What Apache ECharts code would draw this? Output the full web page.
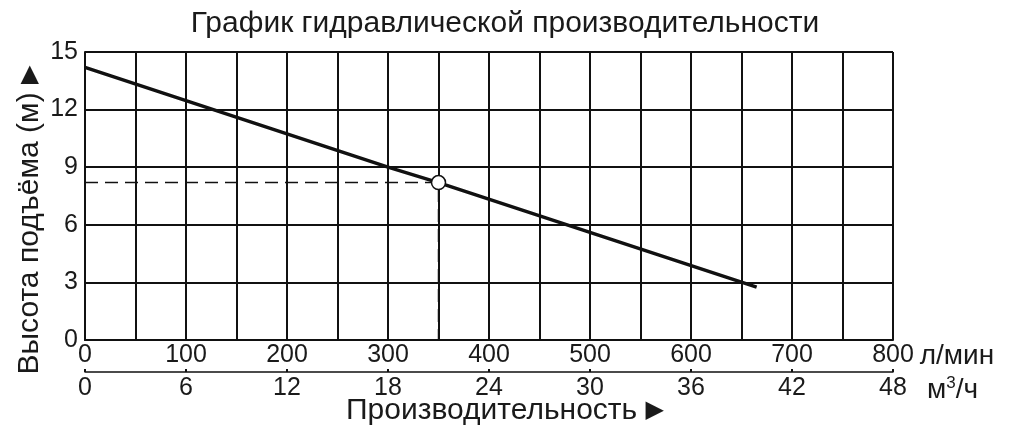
<!DOCTYPE html>
<html>
<head>
<meta charset="utf-8">
<script src="https://cdn.jsdelivr.net/npm/echarts@6/dist/echarts.min.js"></script>
<style>
html,body{margin:0;padding:0;background:#fff;}
#c{width:1019px;height:443px;}
</style>
</head>
<body>
<div id="c"></div>
<script>
// Data
const curveFlow = [0, 300, 350, 665];        // л/мин
const curveHead = [14.2, 9.0, 8.2, 2.75];    // м
const opFlow = 350;
const opHead = 8.2;
const flowTicks = [0, 100, 200, 300, 400, 500, 600, 700, 800];
const m3hTicks = [0, 6, 12, 18, 24, 30, 36, 42, 48];
const headTicks = [0, 3, 6, 9, 12, 15];

const FONT = 'Liberation Sans, Arial, sans-serif';
const INK = '#111';
const TXT = '#1a1a1a';

const chart = echarts.init(document.getElementById('c'));
const curve = curveFlow.map((x, i) => [x, curveHead[i]]);

const triRich = {
  a: {fontFamily: FONT, fontSize: 30, fill: TXT, color: TXT},
  t: {fontFamily: 'DejaVu Sans', fontSize: 24, fill: TXT, color: TXT}
};

chart.setOption({
  animation: false,
  backgroundColor: '#fff',
  title: {
    text: 'График гидравлической производительности',
    left: 500, top: 4, textAlign: 'center',
    textStyle: {fontFamily: FONT, fontSize: 30, fontWeight: 'normal', color: TXT}
  },
  grid: {left: 85, right: 126, top: 52, bottom: 103, containLabel: false},
  xAxis: [{
    type: 'value', min: 0, max: 800, interval: 50,
    position: 'bottom',
    axisLine: {show: true, lineStyle: {color: INK, width: 2}},
    axisTick: {show: false},
    splitLine: {show: true, lineStyle: {color: INK, width: 2}},
    axisLabel: {
      fontFamily: FONT, fontSize: 25, color: TXT, margin: 3,
      formatter: v => flowTicks.indexOf(v) >= 0 ? String(v) : ''
    },
    name: 'л/мин', nameLocation: 'end', nameGap: 24,
    nameTextStyle: {fontFamily: FONT, fontSize: 28, color: TXT, verticalAlign: 'top', padding: [2, 0, 0, 0]}
  }, {
    type: 'value', min: 0, max: 48, interval: 6,
    position: 'bottom', offset: 32,
    axisLine: {show: true, lineStyle: {color: INK, width: 1.5}},
    axisTick: {show: true, length: 3, inside: true, lineStyle: {color: INK, width: 2}},
    splitLine: {show: false},
    axisLabel: {
      fontFamily: FONT, fontSize: 25, color: TXT, margin: 4,
      formatter: v => m3hTicks.indexOf(v) >= 0 ? String(v) : ''
    },
    name: '{a|м}{s|3}{a|/ч}', nameLocation: 'end', nameGap: 34,
    nameTextStyle: {fontFamily: FONT, fontSize: 28, color: TXT, verticalAlign: 'top', padding: [3, 0, 0, 0],
      rich: {
        a: {fontFamily: FONT, fontSize: 28, color: TXT},
        s: {fontFamily: FONT, fontSize: 17, color: TXT, padding: [0, 0, 14, 0]}
      }
    }
  }],
  yAxis: {
    type: 'value', min: 0, max: 15, interval: 3,
    axisLine: {show: true, lineStyle: {color: INK, width: 2}},
    axisTick: {show: false},
    splitLine: {show: true, lineStyle: {color: INK, width: 2}},
    axisLabel: {
      fontFamily: FONT, fontSize: 25, color: TXT, margin: 7,
      formatter: v => headTicks.indexOf(v) >= 0 ? String(v) : ''
    }
  },
  graphic: [{
    type: 'text', x: 30, y: 220, rotation: Math.PI / 2,
    style: {text: '{a|Высота подъёма (м) }{t|▶}', fontFamily: FONT, fontSize: 30, fill: TXT,
            align: 'center', verticalAlign: 'middle', rich: triRich}
  }, {
    type: 'text', left: 346, top: 396,
    style: {text: '{a|Производительность }{t|▶}', fontFamily: FONT, fontSize: 30, fill: TXT, rich: triRich}
  }],
  series: [{
    type: 'line', data: [[0, opHead], [opFlow, opHead], [opFlow, 0]],
    symbol: 'none', silent: true, z: 3,
    lineStyle: {color: INK, width: 1.5, type: [13, 7]}
  }, {
    type: 'line', data: curve, symbol: 'none', z: 4,
    lineStyle: {color: INK, width: 3.5}
  }, {
    type: 'scatter', data: [[opFlow, opHead]], symbol: 'circle', symbolSize: 14, z: 5,
    itemStyle: {color: '#fff', borderColor: INK, borderWidth: 1.5, opacity: 1}
  }]
});
</script>
</body>
</html>
